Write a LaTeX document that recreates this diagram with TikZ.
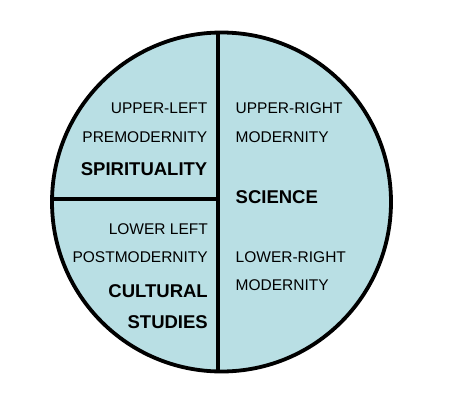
\documentclass[tikz,border=0pt]{standalone}
\usepackage{fontspec}
\setmainfont{Liberation Sans}
\usepackage{tikz}
\definecolor{quadfill}{RGB}{185,223,228}

\begin{document}
\begin{tikzpicture}[x=1pt,y=-1pt,
    lbl/.style={inner sep=0pt,font=\fontsize{15.5}{18}\selectfont},
    bld/.style={inner sep=0pt,font=\fontsize{18.5}{22}\selectfont\bfseries}]
        \useasboundingbox (0,0) rectangle (454,409);
        \def\r{169.5}
        \coordinate (c) at (221.5,202);
        \fill[quadfill] (c) circle (\r);
        \begin{scope}
          \clip (c) circle (\r);
          \draw[line width=3.5pt] (218,0) -- (218,409);
          \draw[line width=3.5pt] (0,199) -- (218,199);
        \end{scope}
        \draw[line width=3.8pt] (c) circle (\r);
        % left column
        \node[lbl,anchor=base east] (ul1) at (207.5,113) {UPPER-LEFT};
        \node[lbl,anchor=base east] (ul2) at (207.5,142) {PREMODERNITY};
        \node[bld,anchor=base east] (ul3) at (207.5,175) {SPIRITUALITY};
        \node[lbl,anchor=base east] (ll1) at (208,234) {LOWER LEFT};
        \node[lbl,anchor=base east] (ll2) at (208,262) {POSTMODERNITY};
        \node[bld,anchor=base east] (ll3) at (208,297) {CULTURAL};
        \node[bld,anchor=base east] (ll4) at (208,328) {STUDIES};
        % right column
        \node[lbl,anchor=base west] (ur1) at (235.5,113) {UPPER-RIGHT};
        \node[lbl,anchor=base west] (ur2) at (235.5,142) {MODERNITY};
        \node[bld,anchor=base west] (sci) at (235.5,203) {SCIENCE};
        \node[lbl,anchor=base west] (lr1) at (235.5,262) {LOWER-RIGHT};
        \node[lbl,anchor=base west] (lr2) at (235.5,290) {MODERNITY};
      \end{tikzpicture}
\end{document}
